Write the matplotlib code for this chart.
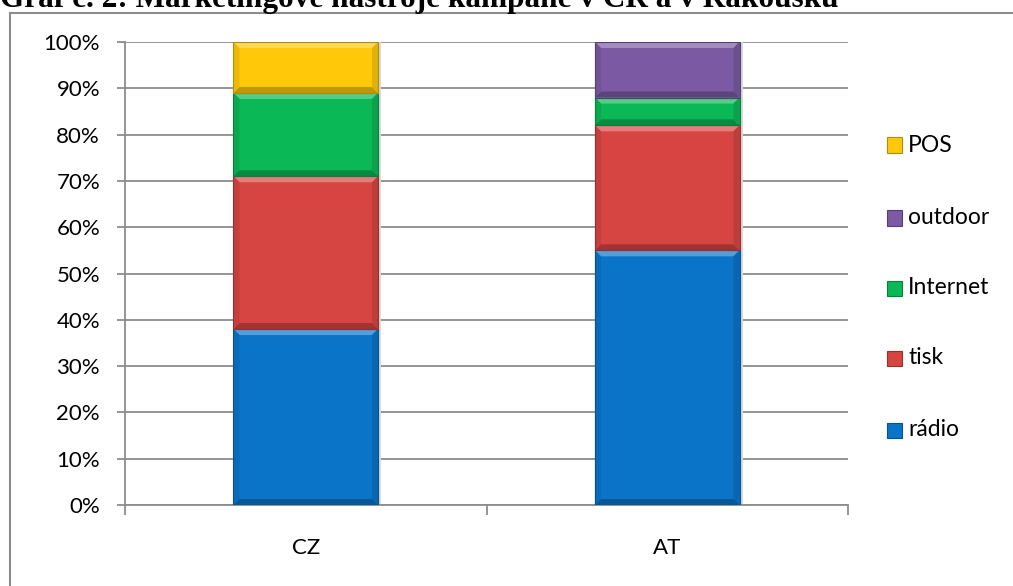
import matplotlib.pyplot as plt
import numpy as np
from matplotlib.patches import Polygon, Rectangle
import matplotlib.colors as mcolors

plt.rcParams['font.family'] = ['Lato', 'DejaVu Sans']

# podíly nástrojů v %, odspodu nahoru
countries = ['CZ', 'AT']
nastroje = ['rádio', 'tisk', 'Internet', 'outdoor', 'POS']
radio = [38, 55]
tisk = [33, 27]
internet = [18, 6]
outdoor = [0, 12]
pos = [11, 0]
barvy = ['#0A74C9', '#D64541', '#0BB856', '#7B5AA3', '#FFC90A']

data = [radio, tisk, internet, outdoor, pos]

fig = plt.figure(figsize=(10.13, 5.86), dpi=100)
W, H = 1013, 586

# rámeček kolem grafu
fig.patches.append(Rectangle((10 / W, -0.1), 1.2, (586 - 13) / H + 0.1, transform=fig.transFigure,
                             fill=False, edgecolor='#8c8c8c', linewidth=1.5))

fig.text(0.0, 1 - 7 / H, 'Graf č. 2: Marketingové nástroje kampaně v ČR a v Rakousku',
         family='Liberation Serif', fontweight='bold', fontsize=22.5, ha='left', va='baseline')

ax = fig.add_axes([125 / W, (586 - 505) / H, (848 - 125) / W, (505 - 42) / H])
ax.set_xlim(-0.5, 1.5)
ax.set_ylim(0, 100)

sirka = 0.4
px_x = 1.0 / 361.5     # jednotky osy x na pixel
px_y = 100.0 / 463     # jednotky osy y na pixel
bev = 6


def svetlejsi(c, f):
    r, g, b = mcolors.to_rgb(c)
    return (r + (1 - r) * f, g + (1 - g) * f, b + (1 - b) * f)


def tmavsi(c, f):
    r, g, b = mcolors.to_rgb(c)
    return (r * (1 - f), g * (1 - f), b * (1 - f))


def sloupec(x0, y0, w, h, c):
    bx = bev * px_x
    by = min(bev * px_y, h / 3)
    x1, y1 = x0 + w, y0 + h
    # stín vpravo
    ax.add_patch(Rectangle((x1, y0), 3 * px_x, h, facecolor='#d9d9d9', edgecolor='none', zorder=2))
    ax.add_patch(Rectangle((x0, y0), w, h, facecolor=c, edgecolor='none', zorder=3))
    ax.add_patch(Polygon([(x0, y1), (x1, y1), (x1 - bx, y1 - by), (x0 + bx, y1 - by)],
                         facecolor=svetlejsi(c, 0.3), edgecolor='none', zorder=4))
    ax.add_patch(Polygon([(x0, y0), (x1, y0), (x1 - bx, y0 + by), (x0 + bx, y0 + by)],
                         facecolor=tmavsi(c, 0.25), edgecolor='none', zorder=4))
    ax.add_patch(Polygon([(x0, y0), (x0, y1), (x0 + bx, y1 - by), (x0 + bx, y0 + by)],
                         facecolor=tmavsi(c, 0.08), edgecolor='none', zorder=4))
    ax.add_patch(Polygon([(x1, y0), (x1, y1), (x1 - bx, y1 - by), (x1 - bx, y0 + by)],
                         facecolor=tmavsi(c, 0.12), edgecolor='none', zorder=4))
    ax.add_patch(Rectangle((x0, y0), w, h, facecolor='none', edgecolor=tmavsi(c, 0.3),
                           linewidth=0.8, zorder=5))


for i in range(len(countries)):
    spodek = 0
    for j, serie in enumerate(data):
        v = serie[i]
        if v > 0:
            sloupec(i - sirka / 2, spodek, sirka, v, barvy[j])
        spodek += v

ax.set_yticks(np.arange(0, 101, 10))
ax.set_yticklabels([f'{t}%' for t in range(0, 101, 10)], fontsize=16)
ax.yaxis.grid(True, color='#8c8c8c', linewidth=1.3)
ax.set_axisbelow(True)
ax.set_xticks([-0.5, 0.5, 1.5])
ax.set_xticklabels([])
ax.set_xticks([0, 1], minor=True)
ax.set_xticklabels(countries, minor=True, fontsize=16)
ax.tick_params(axis='x', which='minor', length=0, pad=24)
ax.tick_params(axis='x', which='major', length=7, color='#8c8c8c', width=1.3)
ax.tick_params(axis='y', length=6, color='#8c8c8c', width=1.3, pad=12)
for s in ['top', 'right']:
    ax.spines[s].set_visible(False)
for s in ['left', 'bottom']:
    ax.spines[s].set_color('#8c8c8c')
    ax.spines[s].set_linewidth(1.3)

# legenda vpravo, od POS dolů
ly = [145, 218, 288, 358, 430]
for k, j in enumerate(range(len(nastroje) - 1, -1, -1)):
    yc = 1 - ly[k] / H
    sq = 15
    fig.patches.append(Rectangle((887 / W, yc - sq / 2 / H), sq / W, sq / H, transform=fig.transFigure,
                                 facecolor=barvy[j], edgecolor=tmavsi(barvy[j], 0.3), linewidth=0.8))
    fig.text(908 / W, yc, nastroje[j], fontsize=16.5, ha='left', va='center')

fig.savefig('out.png', dpi=100)
